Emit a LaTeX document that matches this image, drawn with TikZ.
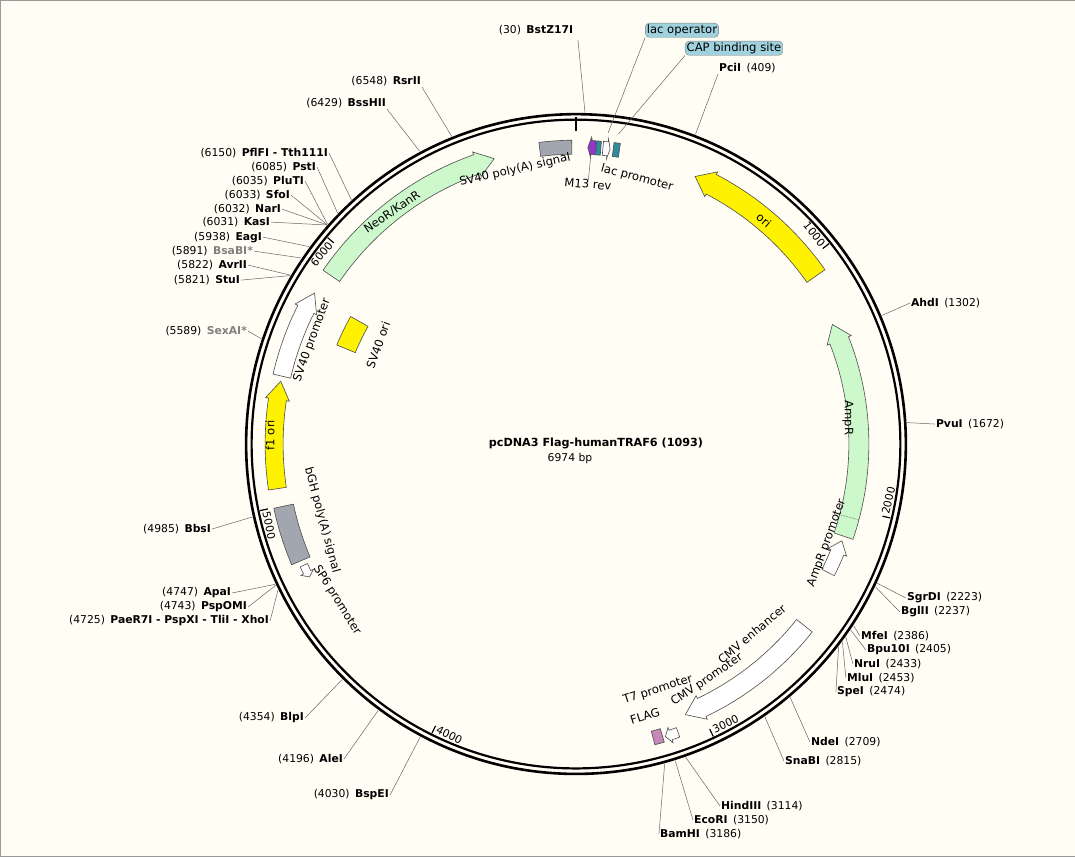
\documentclass[tikz,border=0pt]{standalone}
\usepackage{fontspec}
\setmainfont{DejaVu Sans}
\begin{document}
\begin{tikzpicture}[x=1pt,y=-1pt,
  lab/.style={font=\fontsize{10.8}{12}\selectfont,inner sep=1pt},
  flab/.style={font=\fontsize{11.6}{13}\selectfont,inner sep=0pt},
  leader/.style={draw=black!60,line width=0.5pt},
  fe/.style={draw=black!70,line width=0.6pt}]
\definecolor{bg}{HTML}{FFFDF4}
\definecolor{ygreen}{HTML}{CCF8CC}
\definecolor{fgray}{HTML}{A2A6AE}
\definecolor{teal}{HTML}{2E8C9C}
\definecolor{lblue}{HTML}{9FD2DE}
\definecolor{purp}{HTML}{9A2FD6}
\definecolor{pinkf}{HTML}{C688B8}
\fill[bg,draw=black!40] (0,0) rectangle (1075,856);
\useasboundingbox (0,0) rectangle (1075,856);
\coordinate (C) at (576,444);
\newcommand\farrow[6]{%
 \pgfmathsetmacro\fa{#1-90}\pgfmathsetmacro\fb{#2-90}\pgfmathsetmacro\fc{#2-#6-90}%
 \pgfmathsetmacro\ro{#3+#4}\pgfmathsetmacro\ri{#3-#4}\pgfmathsetmacro\rO{#3+#4+3}\pgfmathsetmacro\rI{#3-#4-3}%
 \draw[fe,fill=#5] ([shift={(\fa:\ro)}]C) arc[start angle=\fa,end angle=\fc,radius=\ro]
  -- ([shift={(\fc:\rO)}]C) -- ([shift={(\fb:#3)}]C) -- ([shift={(\fc:\rI)}]C)
  -- ([shift={(\fc:\ri)}]C) arc[start angle=\fc,end angle=\fa,radius=\ri] -- cycle;}
\newcommand\fblock[5]{%
 \pgfmathsetmacro\fa{#1-90}\pgfmathsetmacro\fb{#2-90}%
 \pgfmathsetmacro\ro{#3+#4}\pgfmathsetmacro\ri{#3-#4}%
 \draw[fe,fill=#5] ([shift={(\fa:\ro)}]C) arc[start angle=\fa,end angle=\fb,radius=\ro]
  -- ([shift={(\fb:\ri)}]C) arc[start angle=\fb,end angle=\fa,radius=\ri] -- cycle;}
% ring
\draw[line width=2.6pt] (C) circle[radius=330];
\draw[line width=2.2pt] (C) circle[radius=324.5];
\draw[line width=2pt] ([shift={(-90:327)}]C) -- ([shift={(-90:313)}]C);
% ticks
\foreach \p/\t/\r/\an in {1000/51.62/-51.6/north east,2000/103.24/76.8/south west,3000/154.86/25.1/south west,4000/206.48/-26.5/south west,5000/258.1/-78.1/south west,6000/309.72/50.3/north east}{
  \pgfmathsetmacro\a{\t-90}
  \draw[line width=1.2pt] ([shift={(\a:323)}]C) -- ([shift={(\a:315)}]C);
  \node[lab,rotate=\r,anchor=\an,inner ysep=0.5pt,inner xsep=2.5pt] at ([shift={(\a:322)}]C) {\p};}
% features
\farrow{55}{24}{293}{11}{yellow}{-3.5}
\farrow{109}{65}{283}{10}{ygreen}{-3.5}
\draw[fe,densely dotted] ([shift={(15:273)}]C) -- ([shift={(15:293)}]C);
\farrow{117}{110}{283}{7}{white}{-2.5}
\farrow{128.5}{158}{292}{10}{white}{3.5}
\farrow{160.5}{163}{306}{5}{white}{1}
\fblock{163.5}{165.3}{304}{7}{pinkf}
\farrow{304.5}{344}{297}{10}{ygreen}{3.5}
\fblock{353}{359.2}{297}{7}{fgray}
\farrow{3.8}{2.3}{297}{7}{purp}{-0.6}
\fblock{3.9}{4.8}{297}{7}{teal}
\farrow{5.2}{6.6}{297}{7}{white}{0.5}
\fblock{7.2}{8.4}{297}{7}{teal}
\farrow{283}{300}{302}{9}{white}{3.5}
\farrow{261.5}{282}{302}{9}{yellow}{3.5}
\fblock{247}{258}{299}{10}{fgray}
\farrow{246}{243.5}{298}{4}{white}{-1}
\fblock{292.5}{299.5}{249}{10}{yellow}
% feature labels
\node[flab,rotate=13] (tsv40pa) at (515,170) {SV40 poly(A) signal};
\node[flab,rotate=-5] (tm13) at (588,184) {M13 rev};
\node[flab,rotate=-15] (tlacp) at (637,178) {lac promoter};
\node[flab,rotate=-40] (tori) at (764,220) {ori};
\node[flab,rotate=-90] (tamp) at (848,418) {AmpR};
\node[flab,rotate=70] (tampp) at (827,543) {AmpR promoter};
\node[flab,rotate=40] (tcmve) at (752,634) {CMV enhancer};
\node[flab,rotate=34] (tcmvp) at (707,680) {CMV promoter};
\node[flab,rotate=18] (tt7) at (658,690) {T7 promoter};
\node[flab,rotate=18] (tflag) at (645,716) {FLAG};
\node[flab,rotate=34] (tneo) at (392,212) {NeoR/KanR};
\node[flab,rotate=70] (tsvp) at (312,340) {SV40 promoter};
\node[flab,rotate=90] (tf1) at (270,435) {f1 ori};
\node[flab,rotate=-75] (tbgh) at (322,520) {bGH poly(A) signal};
\node[flab,rotate=-58] (tsp6) at (337,600) {SP6 promoter};
\node[flab,rotate=70] (tsvo) at (378,345) {SV40 ori};
\node[flab,draw=black!50,fill=lblue,rounded corners=4pt,inner sep=1.5pt] (blac) at (682,30) {lac operator};
\node[flab,draw=black!50,fill=lblue,rounded corners=4pt,inner sep=1.5pt] (bcap) at (734,48) {CAP binding site};
\coordinate (flac) at ([shift={(-84.1:313)}]C);
\coordinate (fcap) at ([shift={(-82.2:313)}]C);
\coordinate (fm13) at ([shift={(-86.9:306)}]C);
\draw[leader] (blac.south west) -- (flac);
\draw[leader] (bcap.south west) -- (fcap);
\draw[leader] (tm13.north) -- (fm13);
\node[font=\bfseries\fontsize{11.2}{13}\selectfont] (title) at (596,443) {pcDNA3 Flag-humanTRAF6 (1093)};
\node[lab] (bp) at (570,458) {6974 bp};
% sites
\newcommand\siteR[5]{\pgfmathsetmacro\a{#2-90}%
 \coordinate (s#1) at ([shift={(\a:332)}]C);
 \node[lab,anchor=west] (l#1) at (#3,#4) {#5};
 \draw[leader] (s#1) -- (l#1.west);}
\newcommand\siteL[5]{\pgfmathsetmacro\a{#2-90}%
 \coordinate (s#1) at ([shift={(\a:332)}]C);
 \node[lab,anchor=east] (l#1) at (#3,#4) {#5};
 \draw[leader] (s#1) -- (l#1.east);}
\newcommand\siteLt[5]{\pgfmathsetmacro\a{#2-90}%
 \coordinate (s#1) at ([shift={(\a:332)}]C);
 \node[lab,anchor=east] (l#1) at (#3,#4) {#5};
 \draw[leader] (s#1) -- (l#1.south east);}
\coordinate (sbst) at ([shift={(-88.45:332)}]C);
\node[lab] (lbst) at (536,30) {(30)\enspace\textbf{BstZ17I}};
\coordinate (ebst) at (578,40);
\draw[leader] (sbst) -- (ebst);
\coordinate (spci) at ([shift={(-68.9:332)}]C);
\node[lab,anchor=west] (lpci) at (718,68) {\textbf{PciI}\enspace(409)};
\draw[leader] (spci) -- (lpci.south west);
\siteR{ahd}{67.2}{910}{303}{\textbf{AhdI}\enspace(1302)}
\siteR{pvu}{86.3}{935}{424}{\textbf{PvuI}\enspace(1672)}
\siteR{sgr}{114.8}{906}{598}{\textbf{SgrDI}\enspace(2223)}
\siteR{bgl}{115.5}{900}{612}{\textbf{BglII}\enspace(2237)}
\siteR{mfe}{123.2}{860}{636}{\textbf{MfeI}\enspace(2386)}
\siteR{bpu}{124.1}{866}{650}{\textbf{Bpu10I}\enspace(2405)}
\siteR{nru}{125.6}{853}{664}{\textbf{NruI}\enspace(2433)}
\siteR{mlu}{126.6}{846}{678}{\textbf{MluI}\enspace(2453)}
\siteR{spe}{127.7}{836}{692}{\textbf{SpeI}\enspace(2474)}
\siteR{nde}{139.8}{810}{742}{\textbf{NdeI}\enspace(2709)}
\siteR{sna}{145.3}{784}{761}{\textbf{SnaBI}\enspace(2815)}
\siteR{hin}{160.7}{720}{806}{\textbf{HindIII}\enspace(3114)}
\siteR{eco}{162.6}{693}{820}{\textbf{EcoRI}\enspace(3150)}
\siteR{bam}{164.5}{659}{834}{\textbf{BamHI}\enspace(3186)}
\siteL{bsp}{208.0}{390}{795}{(4030)\enspace\textbf{BspEI}}
\siteL{ale}{216.6}{344}{759}{(4196)\enspace\textbf{AleI}}
\siteL{blp}{224.8}{305}{718}{(4354)\enspace\textbf{BlpI}}
\siteL{xho}{243.9}{270}{621}{(4725)\enspace\textbf{PaeR7I - PspXI - TliI - XhoI}}
\siteL{psp}{244.8}{248}{607}{(4743)\enspace\textbf{PspOMI}}
\siteL{apa}{245.0}{232}{593}{(4747)\enspace\textbf{ApaI}}
\siteL{bbs}{257.3}{212}{529}{(4985)\enspace\textbf{BbsI}}
\siteL{sex}{288.5}{248}{331}{(5589)\enspace\textcolor{black!50}{\textbf{SexAI*}}}
\siteL{stu}{300.5}{241}{280}{(5821)\enspace\textbf{StuI}}
\siteL{avr}{300.6}{248}{265}{(5822)\enspace\textbf{AvrII}}
\siteL{bsa}{304.1}{254}{251}{(5891)\enspace\textcolor{black!50}{\textbf{BsaBI*}}}
\siteL{eag}{306.5}{263}{237}{(5938)\enspace\textbf{EagI}}
\siteL{kas}{311.3}{271}{222}{(6031)\enspace\textbf{KasI}}
\siteL{nar}{311.35}{282}{209}{(6032)\enspace\textbf{NarI}}
\siteL{sfo}{311.4}{291}{195}{(6033)\enspace\textbf{SfoI}}
\siteL{plu}{311.5}{305}{181}{(6035)\enspace\textbf{PluTI}}
\siteL{pst}{314.1}{317}{167}{(6085)\enspace\textbf{PstI}}
\siteL{pfl}{317.4}{329}{153}{(6150)\enspace\textbf{PflFI - Tth111I}}
\siteLt{bss}{331.9}{387}{103}{(6429)\enspace\textbf{BssHII}}
\siteLt{rsr}{338.0}{422}{81}{(6548)\enspace\textbf{RsrII}}
\end{tikzpicture}
\end{document}
